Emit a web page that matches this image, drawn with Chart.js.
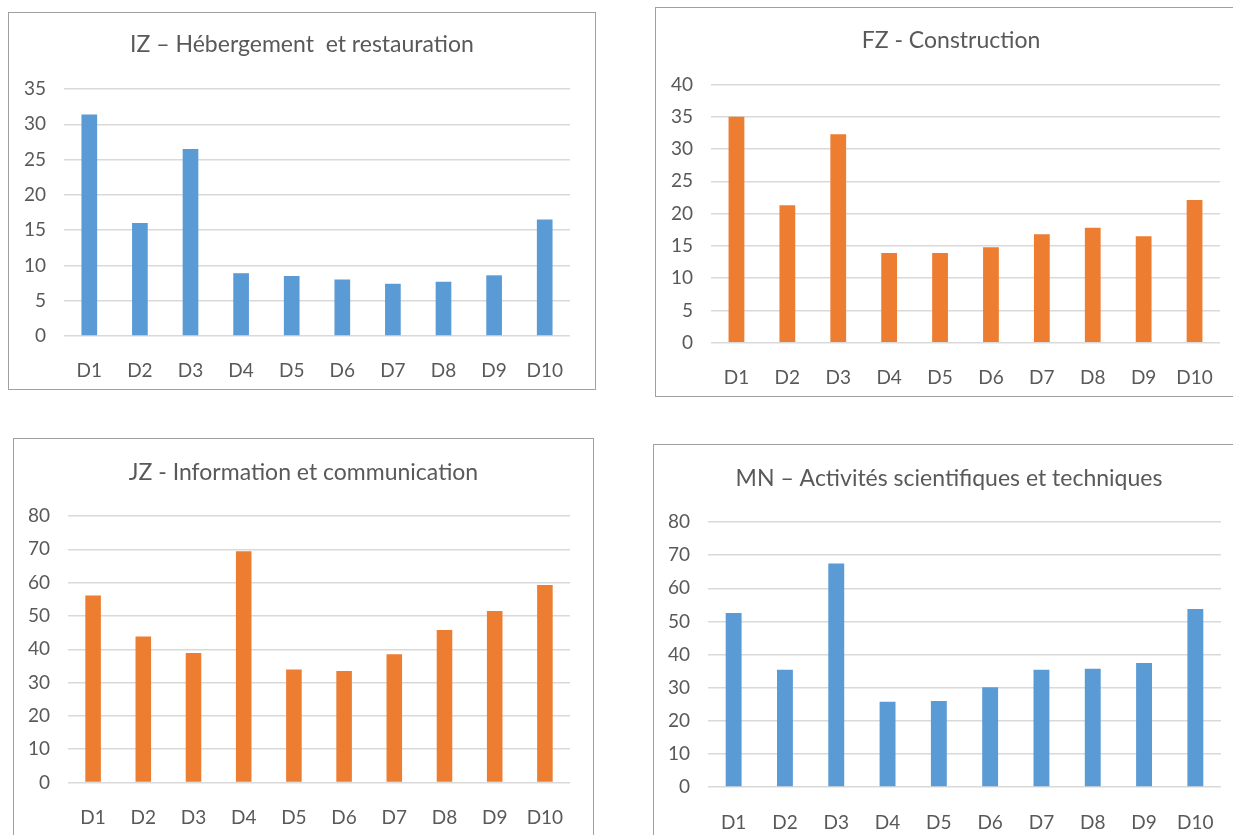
<!DOCTYPE html>
<html>
<head>
<meta charset="utf-8">
<script src="https://cdn.jsdelivr.net/npm/chart.js@4/dist/chart.umd.min.js"></script>
<style>
    body { margin: 0; background: #fff; overflow: hidden; width: 1233px; height: 835px; position: relative; }
    .box { position: absolute; border: 1px solid #a0a0a0; box-sizing: border-box; background: #fff; }
    .box canvas { position: absolute; left: 0; top: 0; }
</style>
</head>
<body>
<div class="box" id="box1"><canvas id="chart1"></canvas></div>
<div class="box" id="box2"><canvas id="chart2"></canvas></div>
<div class="box" id="box3"><canvas id="chart3"></canvas></div>
<div class="box" id="box4"><canvas id="chart4"></canvas></div>
<script>
const categories = ['D1', 'D2', 'D3', 'D4', 'D5', 'D6', 'D7', 'D8', 'D9', 'D10'];

const hebergement = [31.4, 16.0, 26.5, 8.9, 8.5, 8.0, 7.4, 7.7, 8.6, 16.5];
const construction = [35.0, 21.3, 32.3, 13.9, 13.9, 14.8, 16.8, 17.8, 16.5, 22.1];
const information = [56.1, 43.8, 38.9, 69.4, 33.9, 33.5, 38.5, 45.8, 51.5, 59.3];
const activites = [52.5, 35.4, 67.5, 25.7, 26.0, 30.1, 35.4, 35.7, 37.4, 53.7];

const titles = [
    'IZ \u2013 Hébergement  et restauration',
    'FZ - Construction',
    'JZ - Information et communication',
    'MN \u2013 Activités scientifiques et techniques'
];

const BLUE = '#5b9bd5';
const ORANGE = '#ed7d31';
const TEXT = '#595959';
const FONT = 'Lato, "Open Sans", sans-serif';
const TICK_SIZE = 19;
const TITLE_SIZE = 23;

// box = outer frame, plot = gridline area (page pixels)
function drawChart(id, box, plot, titleText, values, color, yMax, yStep, titleY, labelY) {
    const boxEl = document.getElementById('box' + id);
    boxEl.style.left = box.l + 'px';
    boxEl.style.top = box.t + 'px';
    boxEl.style.width = (box.r - box.l) + 'px';
    boxEl.style.height = (box.b - box.t) + 'px';

    const W = box.r - box.l - 2;
    const H = box.b - box.t - 2;
    const canvas = document.getElementById('chart' + id);
    canvas.width = W;
    canvas.height = H;

    const ox = box.l + 1;
    const oy = box.t + 1;
    const rightGap = W - (plot.right - ox);
    const padTop = titleY - oy - TITLE_SIZE * 0.6;
    const padBottom = (plot.top - oy) - padTop - TITLE_SIZE * 1.2;

    new Chart(canvas.getContext('2d'), {
        type: 'bar',
        data: {
            labels: categories,
            datasets: [{
                data: values,
                backgroundColor: color,
                borderWidth: 0,
                barPercentage: 0.31,
                categoryPercentage: 1
            }]
        },
        options: {
            responsive: false,
            animation: false,
            layout: { padding: 0 },
            scales: {
                x: {
                    grid: { display: false },
                    border: { display: false },
                    ticks: {
                        color: TEXT,
                        font: { family: FONT, size: TICK_SIZE },
                        padding: (labelY - plot.zero) - TICK_SIZE * 0.6,
                        maxRotation: 0
                    },
                    afterFit: function(scale) { scale.height = H - (plot.zero - oy); }
                },
                y: {
                    min: 0,
                    max: yMax,
                    ticks: {
                        stepSize: yStep,
                        color: TEXT,
                        font: { family: FONT, size: TICK_SIZE },
                        padding: 18
                    },
                    grid: { color: '#d9d9d9', lineWidth: 1.5, drawTicks: false },
                    border: { display: false },
                    afterFit: function(scale) { scale.width = plot.left - ox; }
                },
                // empty axis that only reserves the blank strip on the right,
                // so the title stays centred on the whole frame
                spacer: {
                    type: 'linear',
                    position: 'right',
                    ticks: { display: false },
                    grid: { display: false },
                    border: { display: false },
                    afterFit: function(scale) { scale.width = rightGap; }
                }
            },
            plugins: {
                legend: { display: false },
                tooltip: { enabled: false },
                title: {
                    display: true,
                    text: titleText,
                    color: TEXT,
                    font: { family: FONT, size: TITLE_SIZE, weight: 'normal', lineHeight: 1.2 },
                    padding: { top: padTop, bottom: padBottom }
                }
            }
        }
    });
}

drawChart(1, { l: 8, t: 12, r: 596, b: 390 }, { left: 64, right: 570, top: 89, zero: 336 },
    titles[0], hebergement, BLUE, 35, 5, 45, 363);
drawChart(2, { l: 655, t: 7, r: 1247, b: 397 }, { left: 711, right: 1220, top: 84.5, zero: 342.7 },
    titles[1], construction, ORANGE, 40, 5, 41, 370);
drawChart(3, { l: 13, t: 438, r: 594, b: 860 }, { left: 68, right: 570, top: 516, zero: 782.5 },
    titles[2], information, ORANGE, 80, 10, 473, 810);
drawChart(4, { l: 653, t: 444, r: 1245, b: 860 }, { left: 708, right: 1221, top: 522, zero: 787 },
    titles[3], activites, BLUE, 80, 10, 479, 815);
</script>
</body>
</html>
